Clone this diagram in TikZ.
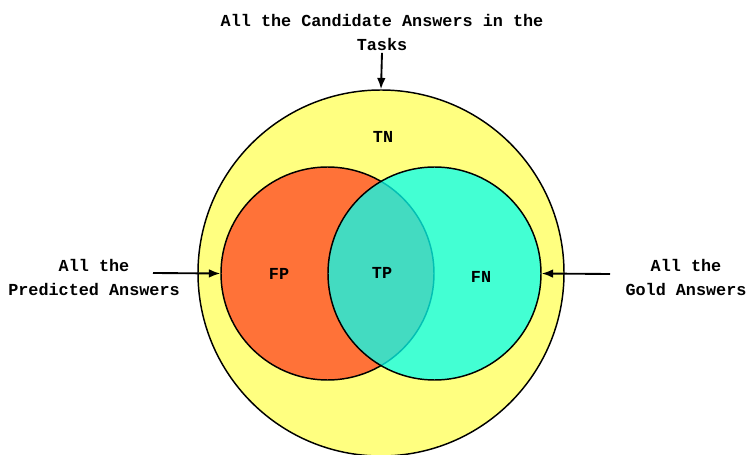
\documentclass[tikz,border=0pt]{standalone}
\usepackage{fontspec}
\newfontfamily\vennfont{Liberation Mono}
\usetikzlibrary{arrows.meta}
\usepackage{xcolor}
\definecolor{tnyellow}{RGB}{255,255,128}
\definecolor{fporange}{RGB}{255,114,56}
\definecolor{fncyan}{RGB}{5,255,240}

\begin{document}
\begin{tikzpicture}[
    x=0.75pt, y=0.75pt,
    set/.style={draw, circle, line width=1.1pt, inner sep=0pt},
    note/.style={align=center, font=\vennfont\bfseries\fontsize{12.6}{18}\selectfont},
    flow/.style={-{Latex[length=8.5pt,width=6.5pt]}, line width=1.4pt}
]
\useasboundingbox (0,0) rectangle (747,454);

\node[set, fill=tnyellow, minimum size=274.5pt] (all) at (381,181) {};
\node[set, fill=fporange, minimum size=159.75pt] (pred) at (327.5,180.5) {};
\node[set, fill=fncyan, fill opacity=0.75, minimum size=159.75pt] (gold) at (434.5,180.5) {};

\node[note] (tn) at (383,317) {TN};
\node[note] (fp) at (279,180) {FP};
\node[note] (tp) at (382,181) {TP};
\node[note] (fn) at (481,177) {FN};

\node[note] (cand) at (382,422) {All the Candidate Answers in the\\Tasks};
\node[note] (predtext) at (94,177) {All the\\Predicted Answers};
\node[note] (goldtext) at (686,177) {All the\\Gold Answers};

\coordinate (predtail) at (153,181);
\coordinate (goldtail) at (610,180);

\draw[flow] ([yshift=1.5pt]cand.south) -- (all.north);
\draw[flow] (predtail) -- (pred.west);
\draw[flow] (goldtail) -- (gold.east);
\end{tikzpicture}
\end{document}
